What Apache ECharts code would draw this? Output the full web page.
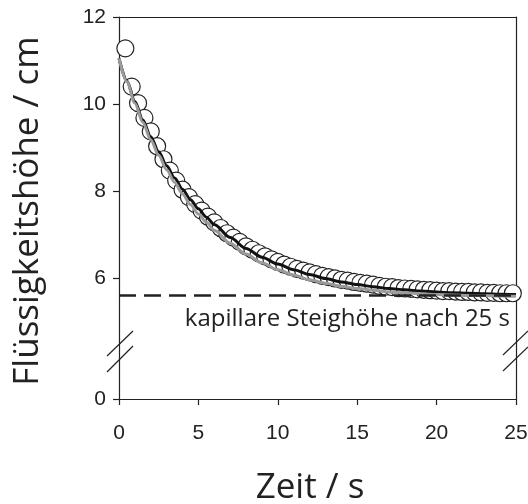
<!DOCTYPE html>
<html><head><meta charset="utf-8">
<script src="https://cdn.jsdelivr.net/npm/echarts@6/dist/echarts.min.js"></script>
<style>html,body{margin:0;padding:0;background:#fff}#c{width:528px;height:504px}</style>
</head><body><div id="c"></div>
<script>
// ---- data ----
const xTicks = [0, 5, 10, 15, 20, 25];
const yTicksUpper = [6, 8, 10, 12];
const yTicksLower = [0];
const capTime = [0.4,0.8,1.2,1.6,2.0,2.4,2.8,3.2,3.6,4.0,4.4,4.8,5.2,5.6,6.0,6.4,6.8,7.2,7.6,8.0,
  8.4,8.8,9.2,9.6,10.0,10.4,10.8,11.2,11.6,12.0,12.4,12.8,13.2,13.6,14.0,14.4,14.8,15.2,15.6,16.0,
  16.4,16.8,17.2,17.6,18.0,18.4,18.8,19.2,19.6,20.0,20.4,20.8,21.2,21.6,22.0,22.4,22.8,23.2,23.6,24.0,
  24.4,24.8];
const capHeight = [11.28,10.40,10.02,9.68,9.37,9.03,8.73,8.47,8.24,8.03,7.86,7.70,7.55,7.41,7.28,7.15,7.03,6.93,6.83,6.73,
  6.65,6.57,6.50,6.43,6.37,6.31,6.26,6.21,6.17,6.13,6.09,6.05,6.02,5.99,5.96,5.94,5.91,5.89,5.87,5.85,
  5.82,5.80,5.79,5.77,5.76,5.75,5.74,5.73,5.72,5.71,5.70,5.70,5.69,5.68,5.68,5.67,5.67,5.66,5.66,5.65,
  5.65,5.65];
const fitTime = [0,0.5,1,1.5,2,2.5,3,3.5,4,4.5,5,5.5,6,7,8,9,10,11,12,13,14,15,16,17,18,19,20,21,22,23,24,25];
const fitBlack = [11.05,10.53,10.06,9.63,9.25,8.90,8.58,8.30,8.04,7.80,7.59,7.40,7.23,6.93,6.68,6.48,6.32,6.19,6.08,5.99,5.91,5.85,5.80,5.76,5.73,5.70,5.68,5.66,5.65,5.64,5.63,5.62];
const fitGray = [11.05,10.51,10.02,9.58,9.18,8.82,8.49,8.20,7.93,7.69,7.47,7.28,7.10,6.80,6.55,6.35,6.19,6.07,5.96,5.88,5.81,5.76,5.72,5.68,5.66,5.64,5.62,5.61,5.60,5.60,5.59,5.58];
const capillaryHeight = 5.6;
const annotationText = 'kapillare Steighöhe nach 25 s';
const xTitle = 'Zeit / s';
const yTitle = 'Flüssigkeitshöhe / cm';

// ---- chart ----
const ink = '#222';
const tickFont = {fontFamily: '"Liberation Sans", Arial, sans-serif', fontSize: 21, color: ink};
const zip = (a, b) => a.map((v, i) => [v, b[i]]);

const chart = echarts.init(document.getElementById('c'), null, {renderer: 'canvas'});
chart.setOption({
  animation: false,
  backgroundColor: '#fff',
  grid: [
    {left: 119, top: 17, width: 397, height: 335, outerBoundsMode: 'none', containLabel: false},
    {left: 119, top: 352, width: 397, height: 47, outerBoundsMode: 'none', containLabel: false}
  ],
  xAxis: [
    {gridIndex: 0, type: 'value', min: 0, max: 25, interval: 5, position: 'top',
      axisLine: {show: true, onZero: false, lineStyle: {color: ink, width: 1.2}},
      axisTick: {show: false}, axisLabel: {show: false}, splitLine: {show: false}},
    {gridIndex: 1, type: 'value', min: 0, max: 25, interval: 5, position: 'bottom',
      axisLine: {show: true, onZero: false, lineStyle: {color: ink, width: 1.2}},
      axisTick: {show: true, inside: false, length: 6, lineStyle: {color: ink, width: 1.2},
        customValues: xTicks},
      axisLabel: Object.assign({show: true, margin: 24, customValues: xTicks}, tickFont),
      splitLine: {show: false}}
  ],
  yAxis: [
    {gridIndex: 0, type: 'value', min: 4.3, max: 12, position: 'left',
      axisLine: {show: true, onZero: false, lineStyle: {color: ink, width: 1.2}},
      axisTick: {show: true, length: 6, lineStyle: {color: ink, width: 1.2}, customValues: yTicksUpper},
      axisLabel: Object.assign({show: true, margin: 13, customValues: yTicksUpper}, tickFont),
      splitLine: {show: false}},
    {gridIndex: 1, type: 'value', min: 0, max: 1, position: 'left',
      axisLine: {show: true, onZero: false, lineStyle: {color: ink, width: 1.2}},
      axisTick: {show: true, length: 6, lineStyle: {color: ink, width: 1.2}, customValues: yTicksLower},
      axisLabel: Object.assign({show: true, margin: 13, customValues: yTicksLower}, tickFont),
      splitLine: {show: false}},
    {gridIndex: 0, type: 'value', min: 4.3, max: 12, position: 'right',
      axisLine: {show: true, onZero: false, lineStyle: {color: ink, width: 1.2}},
      axisTick: {show: false}, axisLabel: {show: false}, splitLine: {show: false}},
    {gridIndex: 1, type: 'value', min: 0, max: 1, position: 'right',
      axisLine: {show: true, onZero: false, lineStyle: {color: ink, width: 1.2}},
      axisTick: {show: false}, axisLabel: {show: false}, splitLine: {show: false}}
  ],
  series: [
    {type: 'scatter', xAxisIndex: 0, yAxisIndex: 0, data: zip(capTime, capHeight),
      symbol: 'circle', symbolSize: 17, z: 2,
      itemStyle: {color: '#fff', borderColor: ink, borderWidth: 1.2, opacity: 1}},
    {type: 'line', xAxisIndex: 0, yAxisIndex: 0, data: zip(fitTime, fitBlack),
      smooth: 0.3, smoothMonotone: 'x', showSymbol: false, symbol: 'none', z: 3,
      lineStyle: {color: '#111', width: 3}},
    {type: 'line', xAxisIndex: 0, yAxisIndex: 0, data: zip(fitTime, fitGray),
      smooth: 0.3, smoothMonotone: 'x', showSymbol: false, symbol: 'none', z: 4,
      lineStyle: {color: '#9a9a9a', width: 3}},
    {type: 'line', xAxisIndex: 0, yAxisIndex: 0,
      data: [[0, capillaryHeight], [25, capillaryHeight]],
      showSymbol: false, symbol: 'none', z: 5,
      lineStyle: {color: ink, width: 2.5, type: [17, 8]}}
  ],
  graphic: [
    {type: 'line', shape: {x1: 107, y1: 356, x2: 133, y2: 331}, style: {stroke: ink, lineWidth: 1.2}, z: 10},
    {type: 'line', shape: {x1: 107, y1: 372, x2: 133, y2: 346}, style: {stroke: ink, lineWidth: 1.2}, z: 10},
    {type: 'line', shape: {x1: 503, y1: 355, x2: 528, y2: 331}, style: {stroke: ink, lineWidth: 1.2}, z: 10},
    {type: 'line', shape: {x1: 503, y1: 371, x2: 528, y2: 347}, style: {stroke: ink, lineWidth: 1.2}, z: 10},
    {type: 'text', x: 510, y: 319, z: 10,
      style: {text: annotationText, fontFamily: '"Open Sans", sans-serif', fontSize: 24, fill: ink,
        textAlign: 'right', textVerticalAlign: 'middle', align: 'right', verticalAlign: 'middle'}},
    {type: 'text', x: 310, y: 488, z: 10,
      style: {text: xTitle, fontFamily: '"Open Sans", sans-serif', fontSize: 35, fill: ink,
        textAlign: 'center', textVerticalAlign: 'middle', align: 'center', verticalAlign: 'middle'}},
    {type: 'text', x: 28, y: 211, rotation: Math.PI / 2, z: 10,
      style: {text: yTitle, fontFamily: '"Open Sans", sans-serif', fontSize: 35, fill: ink,
        textAlign: 'center', textVerticalAlign: 'middle', align: 'center', verticalAlign: 'middle'}}
  ]
});
</script>
</body></html>
